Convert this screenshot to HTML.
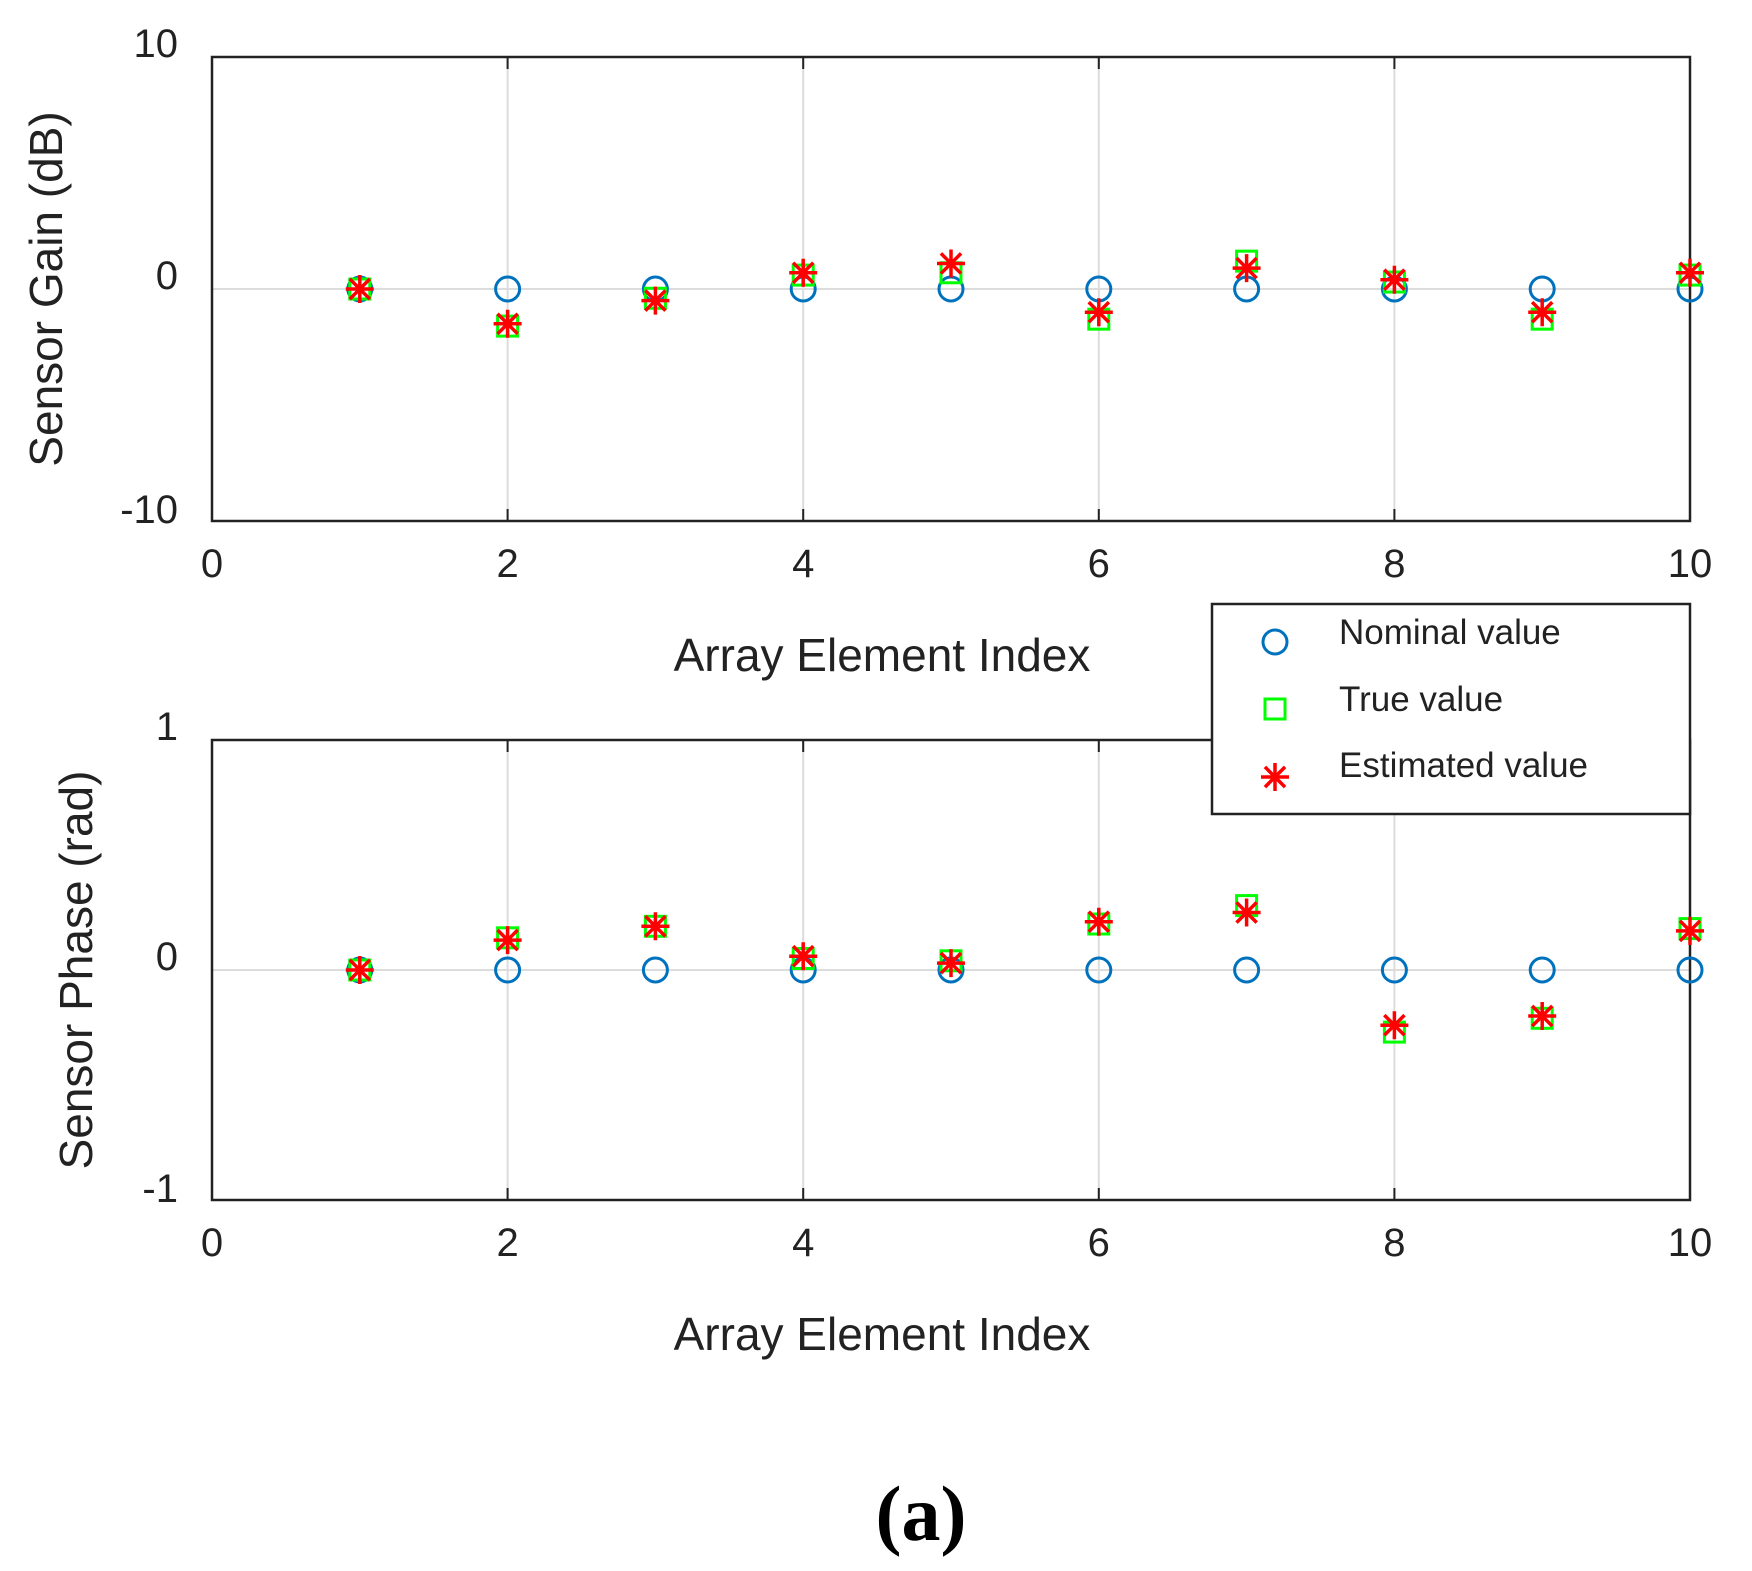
<!DOCTYPE html>
<html><head><meta charset="utf-8"><style>
html,body{margin:0;padding:0;background:#fff;}
svg{display:block;font-family:"Liberation Sans",sans-serif;}
</style></head><body>
<svg id="fig" width="1752" height="1571" viewBox="0 0 1752 1571" xmlns="http://www.w3.org/2000/svg">
<rect width="1752" height="1571" fill="#fff"/>
<g id="content"></g>
<text x="921" y="1540" font-family="Liberation Serif,serif" font-size="78" font-weight="bold" text-anchor="middle">(a)</text>
</svg>
<script>
const indices = [1,2,3,4,5,6,7,8,9,10];
const gainNominal = [0,0,0,0,0,0,0,0,0,0];
const gainTrue = [0,-1.6,-0.4,0.6,0.7,-1.3,1.2,0.3,-1.3,0.6];
const gainEst = [0,-1.5,-0.5,0.7,1.1,-1.0,0.9,0.4,-1.0,0.7];
const phaseNominal = [0,0,0,0,0,0,0,0,0,0];
const phaseTrue = [0,0.14,0.19,0.05,0.04,0.20,0.28,-0.27,-0.21,0.18];
const phaseEst = [0,0.13,0.19,0.06,0.03,0.21,0.25,-0.24,-0.20,0.17];
const xTicks = [0,2,4,6,8,10];
const gainTicks = [-10,0,10];
const phaseTicks = [-1,0,1];

const NS='http://www.w3.org/2000/svg';
const root=document.getElementById('content');
function mk(tag,attrs,parent){const e=document.createElementNS(NS,tag);for(const k in attrs)e.setAttribute(k,attrs[k]);(parent||root).appendChild(e);return e;}

function panel(name,top,bottom,yMin,yMax,yTicks,yLabel,nom,tru,est){
  const L=212,R=1690;
  const xs=v=>L+(v-0)/(10-0)*(R-L);
  const ys=v=>bottom-(v-yMin)/(yMax-yMin)*(bottom-top);
  const g=mk('g',{});
  
  
  xTicks.forEach(t=>{if(t>0&&t<10){const l=mk('line',{x1:xs(t),x2:xs(t),y1:top,y2:bottom,stroke:'#dcdcdc','stroke-width':2},g);}});
  yTicks.forEach(t=>{if(t>yMin&&t<yMax){const l=mk('line',{x1:L,x2:R,y1:ys(t),y2:ys(t),stroke:'#dcdcdc','stroke-width':2},g);}});
  const box=mk('rect',{x:L,y:top,width:R-L,height:bottom-top,fill:'none',stroke:'#222','stroke-width':2.5},g);
  
  
  xTicks.forEach(t=>{const tx=mk('text',{x:xs(t),y:bottom+56,'font-size':40,'text-anchor':'middle',fill:'#222'},g);tx.textContent=t;
    mk('line',{x1:xs(t),x2:xs(t),y1:top,y2:top+12,stroke:'#222','stroke-width':2},g);mk('line',{x1:xs(t),x2:xs(t),y1:bottom,y2:bottom-12,stroke:'#222','stroke-width':2},g);});
  yTicks.forEach(t=>{const tx=mk('text',{x:L-34,y:ys(t)+(t===yMax?0:t===yMin?2:0),'font-size':40,'text-anchor':'end',fill:'#222'},g);tx.textContent=t;});
  const xl=mk('text',{x:882,y:bottom+150,'font-size':46,'text-anchor':'middle',fill:'#222'},g);
  xl.textContent='Array Element Index';
  
  
  const yx=name==='gain'?62:92;
  const yl=mk('text',{x:yx,y:(top+bottom)/2,'font-size':46,'text-anchor':'middle',fill:'#222',transform:`rotate(-90 ${yx} ${(top+bottom)/2})`},g);
  yl.textContent=yLabel;
  
  
  indices.forEach((x,i)=>{
    const c=mk('circle',{cx:xs(x),cy:ys(nom[i]),r:12,fill:'none',stroke:'#0072BD','stroke-width':3},g);
    
    
  });
  indices.forEach((x,i)=>{
    const s=mk('rect',{x:xs(x)-10,y:ys(tru[i])-10,width:20,height:20,fill:'none',stroke:'#00FF00','stroke-width':3},g);
    
    
  });
  indices.forEach((x,i)=>{
    const p=star(xs(x),ys(est[i]),g);
    
    
  });
}
function star(cx,cy,parent){
  const r=14,d=r*0.72;
  return mk('path',{d:`M${cx-r},${cy}H${cx+r}M${cx},${cy-r}V${cy+r}M${cx-d},${cy-d}L${cx+d},${cy+d}M${cx-d},${cy+d}L${cx+d},${cy-d}`,stroke:'#FF0000','stroke-width':3.5,fill:'none'},parent);
}
panel('gain',57,521,-10,10,gainTicks,'Sensor Gain (dB)',gainNominal,gainTrue,gainEst);
panel('phase',740,1200,-1,1,phaseTicks,'Sensor Phase (rad)',phaseNominal,phaseTrue,phaseEst);

const lg=mk('g',{});


mk('rect',{x:1212,y:604,width:478,height:210,fill:'#fff',stroke:'#222','stroke-width':2.5},lg);
const labels=['Nominal value','True value','Estimated value'];
const ly=[634,701,767];
const c0=mk('circle',{cx:1275,cy:ly[0]+8,r:12,fill:'none',stroke:'#0072BD','stroke-width':3},lg);


const s0=mk('rect',{x:1265,y:ly[1]-2,width:20,height:20,fill:'none',stroke:'#00FF00','stroke-width':3},lg);


const p0=star(1275,ly[2]+10,lg);


labels.forEach((t,i)=>{
  const tx=mk('text',{x:1339,y:ly[i]+10,'font-size':35,fill:'#222'},lg);
  tx.textContent=t;
  
  
});
</script>
</body></html>
